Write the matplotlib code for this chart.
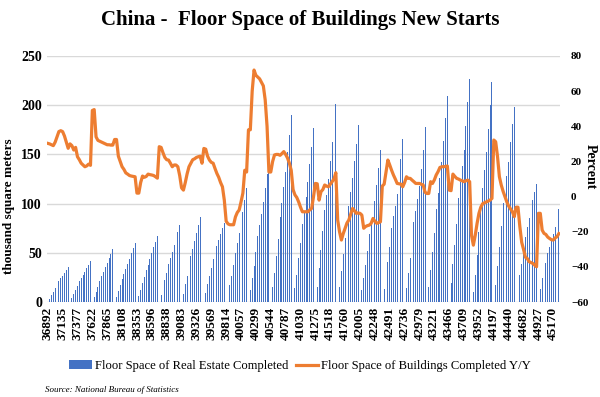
import numpy as np
import pandas as pd
import matplotlib.pyplot as plt

# monthly categories, Jan 2001 - Dec 2023 (Excel serial numbers on the axis)
months = pd.date_range("2001-01-01", "2023-12-01", freq="MS")
serials = [(d - pd.Timestamp("1899-12-30")).days for d in months]

# YTD floor space (bars), Jan has no value -> 0
space_2001 = [0, 3, 7, 10, 14, 18, 21, 24, 27, 30, 33, 36]
space_2002 = [0, 4, 8, 12, 16, 21, 24, 28, 31, 35, 38, 42]
space_2003 = [0, 5, 10, 15, 21, 27, 31, 36, 40, 45, 49, 54]
space_2004 = [0, 5, 11, 17, 23, 29, 34, 39, 44, 50, 55, 60]
space_2005 = [0, 6, 12, 19, 26, 33, 38, 44, 50, 56, 61, 67]
space_2006 = [0, 7, 14, 22, 30, 39, 45, 51, 58, 65, 71, 78]
space_2007 = [0, 8, 18, 27, 37, 47, 54, 62, 70, 78, 86, 94]
space_2008 = [0, 9, 18, 27, 35, 44, 51, 57, 63, 69, 75, 80]
space_2009 = [0, 8, 17, 27, 38, 50, 60, 70, 80, 92, 104, 116]
space_2010 = [0, 12, 25, 37, 51, 67, 78, 90, 102, 116, 130, 144]
space_2011 = [0, 15, 30, 47, 64, 86, 101, 117, 132, 152, 170, 190]
space_2012 = [0, 14, 28, 45, 60, 79, 93, 107, 122, 140, 158, 177]
space_2013 = [0, 15, 35, 53, 72, 94, 109, 125, 143, 163, 182, 201]
space_2014 = [0, 15, 32, 49, 65, 85, 98, 112, 126, 143, 161, 180]
space_2015 = [0, 12, 25, 38, 52, 69, 80, 91, 103, 119, 136, 155]
space_2016 = [0, 13, 26, 41, 56, 75, 87, 98, 110, 126, 145, 166]
space_2017 = [0, 14, 30, 45, 61, 81, 93, 105, 118, 135, 155, 178]
space_2018 = [0, 15, 33, 51, 70, 95, 111, 126, 142, 164, 187, 209]
space_2019 = [0, 19, 39, 58, 79, 106, 122, 138, 155, 179, 203, 227]
space_2020 = [0, 10, 28, 48, 71, 98, 116, 134, 152, 176, 200, 224]
space_2021 = [0, 17, 37, 56, 77, 101, 115, 128, 142, 163, 181, 198]
space_2022 = [0, 14, 28, 39, 51, 66, 76, 85, 94, 104, 112, 120]
space_2023 = [0, 13, 24, 32, 40, 50, 56, 63, 69, 76, 85, 95]

# Y/Y percent (line)
yoy_2001 = [30.3, 30, 29.5, 29, 31, 34, 37, 37.5, 37, 34.5, 31, 27.5]
yoy_2002 = [30, 29, 26.5, 28, 22.7, 21, 19, 18, 17, 17.5, 18.5, 17.8]
yoy_2003 = [49, 49.5, 34, 32, 31.5, 31, 30.5, 30, 29.5, 29.5, 29.3, 29.3]
yoy_2004 = [32.5, 32.5, 23, 20, 17, 15.5, 13.5, 12.8, 12, 11.7, 11.5, 11.3]
yoy_2005 = [2, 2, 8, 11.7, 11, 11.5, 12.8, 12.5, 12.3, 12, 11.3, 10.5]
yoy_2006 = [28.4, 28, 25, 22.3, 21, 20.8, 19, 17, 18, 18, 17, 12]
yoy_2007 = [5, 3.7, 8, 13, 17, 19, 21, 21.5, 22.3, 22.7, 23, 19]
yoy_2008 = [27.4, 27, 23, 20.8, 19.5, 19, 16, 13.2, 11, 8, 5.6, -2]
yoy_2009 = [-14, -15.5, -16, -16, -16, -11.5, -9, -7.6, -3, 2, 15, 14]
yoy_2010 = [38, 38, 60, 72, 69, 68, 67, 65, 63, 55, 40, 14]
yoy_2011 = [14, 20, 23.7, 24, 24, 23.5, 24.5, 25.6, 24, 22, 19, 15]
yoy_2012 = [4, 1, -0.5, -3, -6, -8.6, -8.6, -8.6, -8.6, -7.5, -6.7, 0]
yoy_2013 = [7.5, 7.3, -2, 2.8, 4, 6.6, 6, 5.6, 7, 8.5, 10, 13.6]
yoy_2014 = [-13.3, -20, -24.7, -21, -18, -15, -13.3, -10, -6.7, -8, -9.5, -9.3]
yoy_2015 = [-9.5, -10.5, -18, -17, -16.5, -16.2, -15.2, -12.4, -14, -15.2, -14.8, -14.3]
yoy_2016 = [6, 7.1, 14, 20.8, 18, 15, 12.3, 10, 7.5, 7.3, 7.1, 5.6]
yoy_2017 = [8, 11.3, 10.4, 10.4, 9.4, 8.5, 7.5, 7.5, 7.5, 7, 6.6, 2.5]
yoy_2018 = [1.8, 1.8, 8.5, 7.5, 9.5, 12.3, 14.2, 16.6, 17, 17, 17.2, 17.4]
yoy_2019 = [3.7, 3.4, 12.8, 11.5, 10.4, 10, 9.4, 9, 8.5, 9, 9.4, 8.5]
yoy_2020 = [-22, -27.6, -22, -15.2, -9.5, -6, -4, -3.5, -3, -2.5, -2, -1]
yoy_2021 = [32.2, 31.2, 22.7, 11.3, 6.6, 3, 0, -3, -5.4, -7, -8.6, -11.4]
yoy_2022 = [-6, -6, -17, -26, -30, -34.5, -35.2, -37, -37.5, -38, -39, -39.9]
yoy_2023 = [-9.5, -9.5, -19, -20.9, -21.5, -23, -23.8, -24.5, -24.7, -23.5, -22.8, -21]

space = (space_2001 + space_2002 + space_2003 + space_2004 + space_2005 + space_2006
         + space_2007 + space_2008 + space_2009 + space_2010 + space_2011 + space_2012
         + space_2013 + space_2014 + space_2015 + space_2016 + space_2017 + space_2018
         + space_2019 + space_2020 + space_2021 + space_2022 + space_2023)
yoy = (yoy_2001 + yoy_2002 + yoy_2003 + yoy_2004 + yoy_2005 + yoy_2006
       + yoy_2007 + yoy_2008 + yoy_2009 + yoy_2010 + yoy_2011 + yoy_2012
       + yoy_2013 + yoy_2014 + yoy_2015 + yoy_2016 + yoy_2017 + yoy_2018
       + yoy_2019 + yoy_2020 + yoy_2021 + yoy_2022 + yoy_2023)

plt.rcParams['font.family'] = 'Liberation Serif'

fig = plt.figure(figsize=(6, 3.97), dpi=100)
ax = fig.add_axes([0.078, 0.239, 0.855, 0.62])
x = np.arange(len(space))

ax.bar(x, space, width=0.5, color='#4472C4', label='Floor Space of Real Estate Completed', zorder=2)
ax.set_xlim(-0.5, len(space) - 0.5)
ax.set_ylim(0, 250)
ax.set_yticks(range(0, 251, 50))
ax.grid(axis='y', color='#d9d9d9', linewidth=1, zorder=0)
ax.set_axisbelow(True)
for s in ax.spines.values():
    s.set_visible(False)
ax.tick_params(length=0)
ax.set_xticks(x[::8])
ax.set_xticklabels([str(v) for v in serials[::8]], rotation=90, fontsize=9.5, fontweight='bold')
for lab in ax.get_yticklabels():
    lab.set_fontweight('bold')
    lab.set_fontsize(10)
ax.set_ylabel('thousand square meters', fontsize=9.5, fontweight='bold')
ax.yaxis.set_label_coords(-0.062, 0.39)

ax2 = ax.twinx()
ax2.plot(x, yoy, color='#ED7D31', linewidth=2.3, label='Floor Space of Buildings Completed Y/Y')
ax2.set_ylim(-60, 80)
ax2.set_yticks(range(-60, 81, 20))
for s in ax2.spines.values():
    s.set_visible(False)
ax2.tick_params(length=0, pad=8)
for lab in ax2.get_yticklabels():
    lab.set_fontweight('bold')
    lab.set_fontsize(8)
ax2.set_ylabel('Percent', rotation=270, fontsize=10, fontweight='bold', va='center')
ax2.yaxis.set_label_coords(1.06, 0.55)

fig.suptitle('China -  Floor Space of Buildings New Starts', x=0.5, y=0.975,
             fontsize=15, fontweight='bold')

h1, l1 = ax.get_legend_handles_labels()
h2, l2 = ax2.get_legend_handles_labels()
fig.legend(h1 + h2, l1 + l2, loc='center', bbox_to_anchor=(0.5, 0.078), ncol=2,
           frameon=False, fontsize=9.1, handlelength=1.8, handletextpad=0.2, columnspacing=0.6)

fig.text(0.075, 0.013, 'Source: National Bureau of Statistics', fontsize=6.5, style='italic')

fig.savefig('out.png', dpi=100)
